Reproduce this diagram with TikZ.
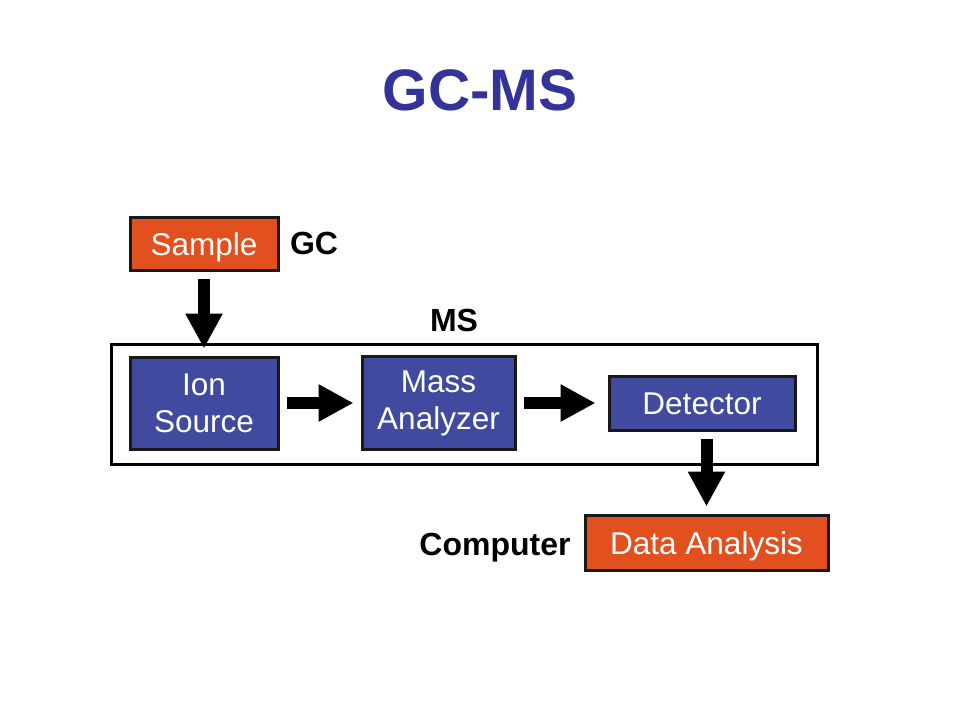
\documentclass[tikz,border=0pt]{standalone}
\usepackage{fontspec}
\setmainfont{Liberation Sans}
\usetikzlibrary{arrows.meta,positioning}
\definecolor{gcorange}{RGB}{226,80,32}
\definecolor{msblue}{RGB}{64,74,158}
\definecolor{titleblue}{RGB}{51,51,153}

\begin{document}
\begin{tikzpicture}[x=1pt,y=-1pt,
  unit/.style={draw=black!90,line width=3pt,text=white,align=center,
    font=\fontsize{31.5}{37}\selectfont},
  oneline/.style={text height=23pt,text depth=0pt},
  gcunit/.style={unit,oneline,fill=gcorange},
  msunit/.style={unit,fill=msblue},
  tag/.style={font=\fontsize{32}{38}\selectfont\bfseries},
  flow/.style={line width=12pt,-{Triangle[width=35pt,length=35pt]},
    shorten <=7pt,shorten >=7pt}]
\useasboundingbox (0,0) rectangle (960,720);
\node[font=\fontsize{58.5}{70}\selectfont\bfseries,text=titleblue] (title) at (480,90) {GC-MS};
% GC part
\node[gcunit,minimum width=148,minimum height=53] (sample) at (204,243.5) {Sample};
\node[tag] (gc) at (314,243) {GC};
% MS part
\node[draw,line width=3pt,minimum width=706,minimum height=120] (frame) at (464,404) {};
\node[tag] (ms) at (454,320) {MS};
\node[msunit,minimum width=148,minimum height=92] (ion) at (204,403) {Ion\\Source};
\node[msunit,minimum width=153,minimum height=93] (mass) at (438.5,403) {Mass\\Analyzer};
\node[msunit,oneline,minimum width=186,minimum height=54] (det) at (702,403) {Detector};
% computer
\node[gcunit,minimum width=243,minimum height=55] (data) at (706.5,542.5) {Data Analysis};
\node[tag] (comp) at (495,548) {Computer};
\draw[flow] (sample) -- (ion);
\draw[flow] (ion) -- (mass);
\draw[flow,shorten >=12pt] (mass) -- (det);
\draw[flow] (det.south -| data.north) -- (data.north);
\end{tikzpicture}
\end{document}
